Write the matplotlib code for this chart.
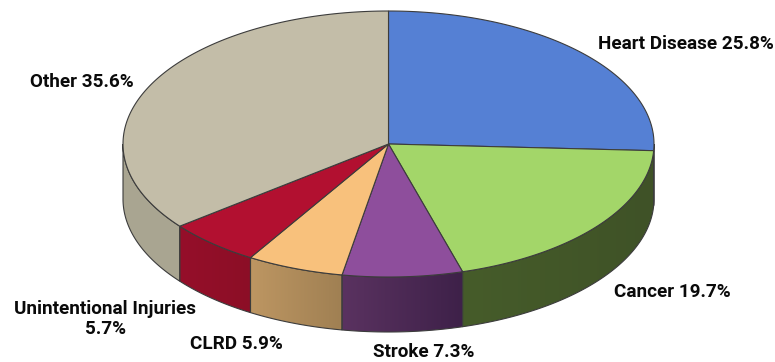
import numpy as np
import matplotlib
matplotlib.use("Agg")
import matplotlib.pyplot as plt
from matplotlib.colors import to_rgb
from matplotlib.patches import Polygon

# slices run clockwise from 12 o'clock
categories = ["Heart Disease", "Cancer", "Stroke", "CLRD", "Unintentional Injuries", "Other"]
shares = [25.8, 19.7, 7.3, 5.9, 5.7, 35.6]
top_colors = ["#5580d4", "#a3d669", "#8e4e9c", "#f8c17c", "#b21030", "#c3bda8"]
# wall colours, left end and right end of each visible piece
side_left = ["#3a5590", "#465c2a", "#5a3260", "#bd9662", "#950f2a", "#a9a591"]
side_right = ["#3a5590", "#3f5227", "#3e2149", "#a08053", "#8c0e26", "#aaa692"]
labels = ["Heart Disease 25.8%", "Cancer 19.7%", "Stroke 7.3%", "CLRD 5.9%",
          "Unintentional Injuries\n5.7%", "Other 35.6%"]
label_pos = [(685.5, 44), (672, 292), (424, 352), (236.5, 344), (105, 319), (82, 82)]

cx, cy = 388.5, 144
rx, ry = 265.5, 133
depth = 55
edge = "#3c3c3c"

plt.rcParams["font.family"] = ["Roboto", "DejaVu Sans"]

fig = plt.figure(figsize=(7.75, 3.62), dpi=100)
ax = fig.add_axes([0, 0, 1, 1])


def rim(angles):
    return cx + rx * np.sin(angles), cy - ry * np.cos(angles)


edges = np.radians(np.cumsum([0] + shares) / sum(shares) * 360)

# front wall, only the part between 3 and 9 o'clock can be seen
for i in range(len(shares)):
    a0 = max(edges[i], np.pi / 2)
    a1 = min(edges[i + 1], 3 * np.pi / 2)
    if a1 <= a0:
        continue
    x, y = rim(np.linspace(a0, a1, 120))
    outline = np.r_[np.c_[x, y], np.c_[x[::-1], y[::-1] + depth]]
    wall = Polygon(outline, closed=True, facecolor="none", edgecolor=edge, linewidth=0.8, zorder=2)
    ax.add_patch(wall)
    # left to right gradient, clipped to the wall shape
    c0, c1 = np.array(to_rgb(side_left[i])), np.array(to_rgb(side_right[i]))
    ramp = np.linspace(0, 1, 64)[None, :, None]
    im = ax.imshow(c0 + (c1 - c0) * ramp, aspect="auto", interpolation="bilinear", zorder=1,
                   extent=(x.min(), x.max(), y.max() + depth, y.min()))
    im.set_clip_path(wall)

# top face
for i in range(len(shares)):
    x, y = rim(np.linspace(edges[i], edges[i + 1], 200))
    pts = np.r_[[[cx, cy]], np.c_[x, y]]
    ax.add_patch(Polygon(pts, closed=True, facecolor=top_colors[i], edgecolor=edge,
                         linewidth=0.8, zorder=3))

for text, (lx, ly) in zip(labels, label_pos):
    ax.text(lx, ly, text, ha="center", va="center", fontsize=13.6, fontweight="bold",
            color="#0a0a0a", linespacing=1.15, zorder=4)

ax.set_xlim(0, 775)
ax.set_ylim(362, 0)
ax.axis("off")

fig.savefig("out.png", dpi=100)
